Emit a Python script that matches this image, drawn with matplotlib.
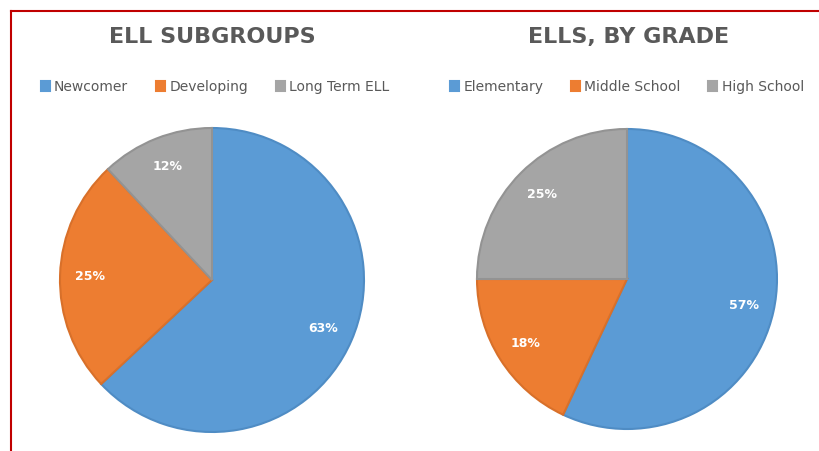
import matplotlib.pyplot as plt
from matplotlib.lines import Line2D

# data
sub_labels = ['Newcomer', 'Developing', 'Long Term ELL']
sub_values = [63, 25, 12]
grade_labels = ['Elementary', 'Middle School', 'High School']
grade_values = [57, 18, 25]

colors = ['#5B9BD5', '#ED7D31', '#A5A5A5']
edges = ['#4f8cc4', '#d8702a', '#939393']

W, H = 819, 451
fig = plt.figure(figsize=(W / 100, H / 100), dpi=100)
fig.patch.set_facecolor('white')


def pie_axes(cx, cy, r):
    # cx, cy in pixels from top-left, r pie radius in pixels
    size = 2 * r * 1.02
    return fig.add_axes([(cx - size / 2) / W, (H - cy - size / 2) / H, size / W, size / H])


def draw(ax, values, labels, title, title_x, legend_x):
    wedges, texts, autotexts = ax.pie(
        values, colors=colors, startangle=90, counterclock=False,
        autopct='%1.0f%%', pctdistance=0.8,
        wedgeprops=dict(linewidth=1.5),
        textprops=dict(color='white', fontsize=9, fontweight='bold'))
    for w, e in zip(wedges, edges):
        w.set_edgecolor(e)
    ax.set_xlim(-1.02, 1.02)
    ax.set_ylim(-1.02, 1.02)
    ax.set_aspect('equal')
    ax.axis('off')
    fig.text(title_x / W, 1 - 37 / H, title, ha='center', va='center',
             fontsize=16, fontweight='bold', color='#595959')
    leg = fig.legend(wedges, labels, loc='center', bbox_to_anchor=(legend_x / W, 1 - 87 / H),
                     ncol=3, frameon=False, handlelength=0.65, handleheight=0.65,
                     handletextpad=0.3, columnspacing=2.0,
                     prop=dict(size=10), labelcolor='#595959')
    for h, c in zip(leg.legend_handles, colors):
        h.set_edgecolor(c)


ax1 = pie_axes(212, 280, 152)
draw(ax1, sub_values, sub_labels, 'ELL SUBGROUPS', 212, 215)

ax2 = pie_axes(627, 279, 150)
draw(ax2, grade_values, grade_labels, 'ELLS, BY GRADE', 629, 627)

# red frame lines
red = '#C00000'
fig.add_artist(Line2D([11 / W, 1], [1 - 11 / H, 1 - 11 / H], color=red, lw=1.5))
fig.add_artist(Line2D([11 / W, 11 / W], [1 - 11 / H, 0], color=red, lw=1.5))

fig.savefig('out.png', dpi=100)
